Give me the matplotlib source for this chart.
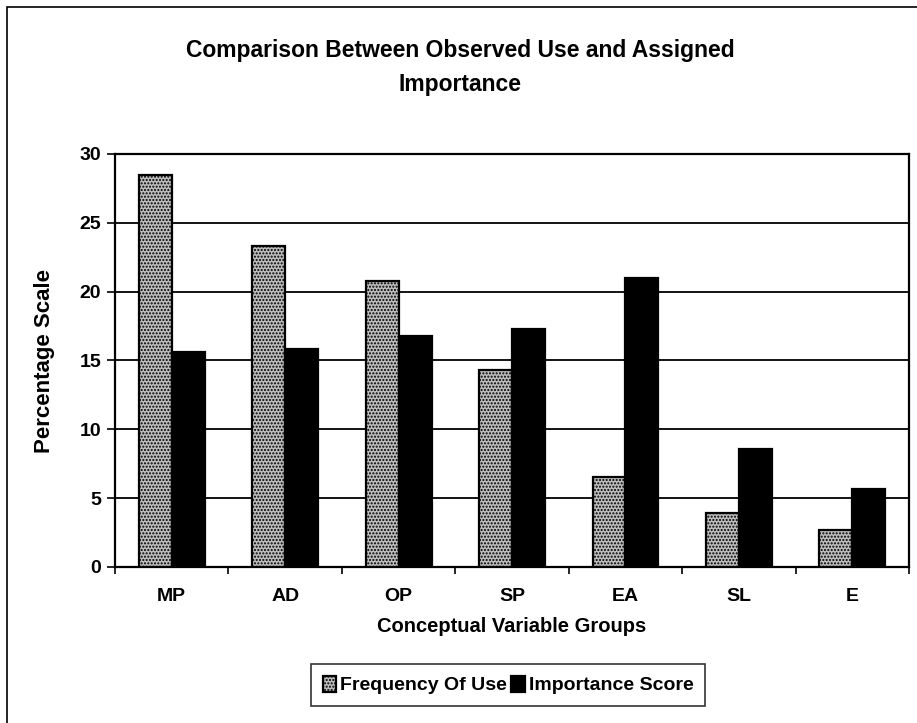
import numpy as np
import matplotlib
matplotlib.use("Agg")
import matplotlib.pyplot as plt
from matplotlib.patches import Rectangle

plt.rcParams['font.family'] = ['Liberation Sans', 'DejaVu Sans']
plt.rcParams['font.weight'] = 'bold'
plt.rcParams['hatch.color'] = '#6e6e6e'
plt.rcParams['hatch.linewidth'] = 1.0

# conceptual variable groups and their percentages
groups = ['MP', 'AD', 'OP', 'SP', 'EA', 'SL', 'E']
frequency_of_use = [28.5, 23.3, 20.8, 14.3, 6.5, 3.9, 2.7]
importance_score = [15.6, 15.8, 16.8, 17.3, 21.0, 8.6, 5.7]
y_ticks = [0, 5, 10, 15, 20, 25, 30]

fig = plt.figure(figsize=(9.17, 7.23), dpi=100)
ax = fig.add_axes([0.1254, 0.2158, 0.866, 0.5712])

x = np.arange(len(groups))
w = 0.29
ax.bar(x - w / 2, frequency_of_use, w, color='#bdbdbd', edgecolor='black',
       linewidth=1.6, hatch='.....', label='Frequency Of Use', zorder=3)
ax.bar(x + w / 2, importance_score, w, color='black', edgecolor='black',
       linewidth=1.6, label='Importance Score', zorder=3)

# axes and gridlines
ax.set_xlim(-0.5, len(groups) - 0.5)
ax.set_ylim(0, 30)
ax.set_yticks(y_ticks)
ax.yaxis.grid(True, color='black', linewidth=1.3, zorder=0)
ax.set_xticks(np.arange(len(groups) + 1) - 0.5)
ax.set_xticklabels([])
ax.set_xticks(x, minor=True)
ax.set_xticklabels(groups, minor=True, fontsize=14, fontweight='bold')
ax.tick_params(axis='x', which='minor', length=0, pad=15)
ax.tick_params(axis='x', which='major', length=5, width=1.2, direction='out')
ax.tick_params(axis='y', length=6, width=1.2, direction='out', labelsize=14, pad=4)
for s in ax.spines.values():
    s.set_linewidth(1.6)
    s.set_color('black')

fig.text(45 / 917, 0.501, 'Percentage Scale', rotation=90, ha='center', va='center',
         fontsize=16, fontweight='bold')
fig.text(0.558, 1 - 626 / 723, 'Conceptual Variable Groups', ha='center', va='center',
         fontsize=14.5, fontweight='bold')

# two-line chart title
fig.text(0.502, 1 - 50 / 723, 'Comparison Between Observed Use and Assigned',
         ha='center', va='center', fontsize=16.5, fontweight='bold')
fig.text(0.502, 1 - 84 / 723, 'Importance',
         ha='center', va='center', fontsize=16.5, fontweight='bold')

leg = fig.legend(loc='center', bbox_to_anchor=(0.554, 1 - 685 / 723), ncol=2,
                 fontsize=14, frameon=True, fancybox=False, edgecolor='black',
                 handlelength=0.7, handleheight=0.9, handletextpad=0.2,
                 columnspacing=0.2, borderpad=0.6, borderaxespad=0)
leg.get_frame().set_linewidth(1.2)

# outer chart frame
fig.add_artist(Rectangle((0.008, -0.1), 1.1, 1.09, transform=fig.transFigure,
                         fill=False, edgecolor='black', linewidth=1.2))

fig.savefig('out.png', dpi=100)
